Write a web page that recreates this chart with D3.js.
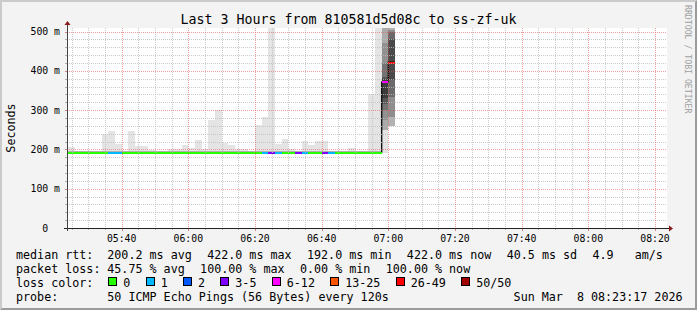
<!DOCTYPE html>
<html>
<head>
<meta charset="utf-8">
<script src="https://cdn.jsdelivr.net/npm/d3@7"></script>
<style>
  body { margin: 0; background: #f3f3f3; }
  text { font-family: "DejaVu Sans Mono", monospace; white-space: pre; fill: #000; }
</style>
</head>
<body>
<div id="chart"></div>
<script>
// one entry per 2 minute step (start of the step)
const stepTimes = ["05:22", "05:24", "05:26", "05:28", "05:30", "05:32", "05:34", "05:36", "05:38", "05:40",
    "05:42", "05:44", "05:46", "05:48", "05:50", "05:52", "05:54", "05:56", "05:58", "06:00",
    "06:02", "06:04", "06:06", "06:08", "06:10", "06:12", "06:14", "06:16", "06:18", "06:20",
    "06:22", "06:24", "06:26", "06:28", "06:30", "06:32", "06:34", "06:36", "06:38", "06:40",
    "06:42", "06:44", "06:46", "06:48", "06:50", "06:52", "06:54", "06:56", "06:58", "07:00"];

// smoke range in ms (lowest / highest ping)
const smokeLow = [192, 192, 192, 192, 192, 192, 192, 192, 192, 192,
    192, 192, 192, 192, 192, 192, 192, 192, 192, 192,
    192, 192, 192, 192, 192, 192, 192, 192, 192, 192,
    192, 192, 192, 192, 192, 192, 192, 192, 192, 192,
    192, 192, 192, 192, 192, 192, 192, 192, 192, 260];
const smokeHigh = [242, 206, 197, 195, 195, 195, 238, 247, 215, 195,
    247, 209, 209, 198, 195, 195, 202, 200, 211, 203,
    224, 200, 275, 300, 217, 211, 200, 200, 196, 262,
    283, 510, 213, 227, 201, 195, 222, 210, 222, 222,
    195, 195, 195, 204, 195, 195, 341, 510, 510, 0];

// median rtt in ms
const medianRtt = [192.5, 192.5, 192.5, 192.5, 192.5, 192.5, 192.5, 192.5, 192.5, 192.5,
    192.5, 192.5, 192.5, 192.5, 192.5, 192.5, 192.5, 192.5, 192.5, 192.5,
    192.5, 192.5, 192.5, 192.5, 192.5, 192.5, 192.5, 192.5, 192.5, 192.5,
    192.5, 192.5, 192.5, 192.5, 192.5, 192.5, 192.5, 192.5, 192.5, 192.5,
    192.5, 192.5, 192.5, 192.5, 192.5, 192.5, 192.5, 192.5, 372, 422];

// index into lossLabels / lossColors
const lossClass = [0, 0, 0, 0, 0, 0, 0, 1, 1, 0,
    0, 0, 0, 0, 0, 0, 0, 0, 0, 0,
    0, 0, 0, 0, 0, 0, 0, 0, 0, 0,
    1, 3, 1, 0, 0, 3, 1, 0, 0, 3,
    1, 0, 0, 0, 0, 0, 0, 0, 4, 6];

// denser smoke of the last two steps: [step, low ms, high ms, shade]
const denseSmoke = [
    ["06:58", 250, 510, 0.25],
    ["06:58", 275, 470, 0.15],
    ["06:58", 300, 420, 0.2],
    ["06:58", 315, 385, 0.25],
    ["06:58", 330, 380, 0.3],
    ["07:00", 260, 510, 0.3],
    ["07:00", 283, 505, 0.2],
    ["07:00", 334, 500, 0.25],
    ["07:00", 377, 480, 0.3]
];

const lossLabels = ["0", "1", "2", "3-5", "6-12", "13-25", "26-49", "50/50"];
const lossColors = ["#26ff00", "#00b8ff", "#0059ff", "#7e00ff", "#ff00ff", "#ff5500", "#ff0000", "#a00000"];

const yTickValues = [0, 100, 200, 300, 400, 500];
const yTickLabels = ["0  ", "100 m", "200 m", "300 m", "400 m", "500 m"];

const rttLegend = ["200.2 ms avg", "422.0 ms max", "192.0 ms min", "422.0 ms now", "40.5 ms sd", "4.9   am/s"];
const lossLegend = ["45.75 % avg", "100.00 % max", "0.00 % min", "100.00 % now"];
const probeText = "50 ICMP Echo Pings (56 Bytes) every 120s";
const stampText = "Sun Mar  8 08:23:17 2026";
const titleText = "Last 3 Hours from 810581d5d08c to ss-zf-uk";

const width = 697, height = 310;
const plot = { left: 67, right: 667, top: 28, bottom: 228 };
const parseHM = d3.timeParse("%H:%M");
const parseHMS = d3.timeParse("%H:%M:%S");

const x = d3.scaleTime()
    .domain([parseHMS("05:23:36"), parseHMS("08:23:36")])
    .range([plot.left, plot.right]);
const y = d3.scaleLinear()
    .domain([0, 509])
    .range([plot.bottom, plot.top]);

const svg = d3.select("#chart").append("svg")
    .attr("width", width)
    .attr("height", height);

// background with 3d border
svg.append("rect").attr("width", width).attr("height", height).attr("fill", "#f3f3f3");
svg.append("path")
    .attr("d", `M0,0H${width}L${width - 2},2H2V${height - 2}L0,${height}Z`)
    .attr("fill", "#cbcbcb");
svg.append("path")
    .attr("d", `M${width},0V${height}H0L2,${height - 2}H${width - 2}V2Z`)
    .attr("fill", "#9b9b9b");

svg.append("rect")
    .attr("x", plot.left).attr("y", plot.top)
    .attr("width", plot.right - plot.left).attr("height", plot.bottom - plot.top)
    .attr("fill", "#fff");

svg.append("clipPath").attr("id", "clip")
    .append("rect")
    .attr("x", plot.left).attr("y", plot.top)
    .attr("width", plot.right - plot.left).attr("height", plot.bottom - plot.top);

const g = svg.append("g").attr("clip-path", "url(#clip)");

const steps = stepTimes.map((s, i) => {
    const t0 = parseHM(s);
    return { t0, t1: d3.timeMinute.offset(t0, 2), lo: smokeLow[i], hi: smokeHigh[i], med: medianRtt[i], loss: lossClass[i] };
});

// light smoke
g.append("g").attr("shape-rendering", "crispEdges")
    .selectAll("rect")
    .data(steps.filter(d => d.hi > d.lo))
    .join("rect")
    .attr("x", d => x(d.t0))
    .attr("width", d => x(d.t1) - x(d.t0))
    .attr("y", d => y(d.hi))
    .attr("height", d => y(d.lo) - y(d.hi))
    .attr("fill", "#000")
    .attr("fill-opacity", 0.105);

// dense smoke
g.append("g").attr("shape-rendering", "crispEdges")
    .selectAll("rect")
    .data(denseSmoke)
    .join("rect")
    .attr("x", d => x(parseHM(d[0])))
    .attr("width", d => x(d3.timeMinute.offset(parseHM(d[0]), 2)) - x(parseHM(d[0])))
    .attr("y", d => y(d[2]))
    .attr("height", d => y(d[1]) - y(d[2]))
    .attr("fill", "#000")
    .attr("fill-opacity", d => d[3]);

// grid
const grid = svg.append("g").attr("shape-rendering", "crispEdges");
const minutes = d3.timeMinute.every(5).range(x.domain()[0], x.domain()[1]);
const isMajorT = t => t.getMinutes() % 20 === 0;
const yMinor = d3.range(20, 510, 20);

grid.selectAll(".vmin")
    .data(minutes.filter(t => !isMajorT(t)))
    .join("line")
    .attr("x1", d => Math.round(x(d)) + 0.5).attr("x2", d => Math.round(x(d)) + 0.5)
    .attr("y1", plot.top).attr("y2", plot.bottom)
    .attr("stroke", "#bdbdbd").attr("stroke-opacity", 0.8)
    .attr("stroke-dasharray", "1,1");
grid.selectAll(".hmin")
    .data(yMinor.filter(v => v % 100 !== 0))
    .join("line")
    .attr("x1", plot.left).attr("x2", plot.right)
    .attr("y1", d => Math.round(y(d)) + 0.5).attr("y2", d => Math.round(y(d)) + 0.5)
    .attr("stroke", "#bdbdbd").attr("stroke-opacity", 0.8)
    .attr("stroke-dasharray", "1,1");
grid.selectAll(".vmaj")
    .data(minutes.filter(isMajorT))
    .join("line")
    .attr("x1", d => Math.round(x(d)) + 0.5).attr("x2", d => Math.round(x(d)) + 0.5)
    .attr("y1", plot.top).attr("y2", plot.bottom)
    .attr("stroke", "#e55050").attr("stroke-opacity", 0.55)
    .attr("stroke-dasharray", "1,1");
grid.selectAll(".hmaj")
    .data(yMinor.filter(v => v % 100 === 0))
    .join("line")
    .attr("x1", plot.left).attr("x2", plot.right)
    .attr("y1", d => Math.round(y(d)) + 0.5).attr("y2", d => Math.round(y(d)) + 0.5)
    .attr("stroke", "#e55050").attr("stroke-opacity", 0.55)
    .attr("stroke-dasharray", "1,1");

// median: thin dark step line underneath, loss coloured segments on top
const medPts = steps.flatMap(d => [[x(d.t0), y(d.med)], [x(d.t1), y(d.med)]]);
g.append("path")
    .attr("d", d3.line()(medPts))
    .attr("fill", "none")
    .attr("stroke", "#111")
    .attr("stroke-width", 1.4);

g.append("g").attr("shape-rendering", "crispEdges")
    .selectAll("rect")
    .data(steps)
    .join("rect")
    .attr("x", d => x(d.t0))
    .attr("width", d => x(d.t1) - x(d.t0))
    .attr("y", d => Math.floor(y(d.med)))
    .attr("height", 2)
    .attr("fill", d => lossColors[d.loss]);

// axes
const axisG = svg.append("g");
axisG.selectAll(".xt")
    .data(minutes)
    .join("line")
    .attr("x1", d => Math.round(x(d)) + 0.5).attr("x2", d => Math.round(x(d)) + 0.5)
    .attr("y1", plot.bottom).attr("y2", d => plot.bottom + (isMajorT(d) ? 3 : 2))
    .attr("stroke", d => isMajorT(d) ? "#e08080" : "#b0b0b0");
axisG.selectAll(".yt")
    .data(yMinor)
    .join("line")
    .attr("x1", plot.left - (2)).attr("x2", plot.left)
    .attr("y1", d => Math.round(y(d)) + 0.5).attr("y2", d => Math.round(y(d)) + 0.5)
    .attr("stroke", d => d % 100 === 0 ? "#e08080" : "#b0b0b0");

axisG.append("line")
    .attr("x1", plot.left - 3).attr("x2", plot.right + 2)
    .attr("y1", plot.bottom + 0.5).attr("y2", plot.bottom + 0.5)
    .attr("stroke", "#222");
axisG.append("line")
    .attr("x1", plot.left + 0.5).attr("x2", plot.left + 0.5)
    .attr("y1", plot.bottom + 3).attr("y2", plot.top - 3)
    .attr("stroke", "#444");
axisG.append("path")
    .attr("d", `M${plot.right + 2},${plot.bottom - 2.5}L${plot.right + 6},${plot.bottom + 0.5}L${plot.right + 2},${plot.bottom + 3.5}Z`)
    .attr("fill", "#8b1a1a");
axisG.append("path")
    .attr("d", `M${plot.left - 2.5},${plot.top - 3}L${plot.left + 0.5},${plot.top - 7}L${plot.left + 3.5},${plot.top - 3}Z`)
    .attr("fill", "#8b1a1a");

// tick labels
axisG.selectAll(".xl")
    .data(minutes.filter(isMajorT))
    .join("text")
    .attr("x", d => x(d))
    .attr("y", 241.5)
    .attr("text-anchor", "middle")
    .attr("font-size", "9.8px")
    .text(d3.timeFormat("%H:%M"));
axisG.selectAll(".yl")
    .data(yTickValues)
    .join("text")
    .attr("x", 60)
    .attr("y", d => y(d) + 3.5)
    .attr("text-anchor", "end")
    .attr("font-size", "9.8px")
    .text((d, i) => yTickLabels[i]);

// title and labels
svg.append("text")
    .attr("x", 348.5).attr("y", 24)
    .attr("text-anchor", "middle")
    .attr("font-size", "13.3px")
    .text(titleText);
svg.append("text")
    .attr("transform", "translate(14.5,128) rotate(-90)")
    .attr("text-anchor", "middle")
    .attr("font-size", "11.7px")
    .text("Seconds");
svg.append("text")
    .attr("transform", "translate(685,5) rotate(90)")
    .attr("font-size", "8.2px")
    .style("fill", "#a0a0a0")
    .text("RRDTOOL / TOBI OETIKER");

// legend
const lg = svg.append("g").attr("font-size", "11.7px");
const rowY = [258.5, 272.5, 286.5, 300.5];
const colX = 107.3, gap = 15.4;

function flowRow(items, yPos) {
    let cx = colX;
    items.forEach(s => {
        const t = lg.append("text").attr("x", cx).attr("y", yPos).text(s);
        cx += t.node().getComputedTextLength() + gap;
    });
}

lg.append("text").attr("x", 16).attr("y", rowY[0]).text("median rtt:");
flowRow(rttLegend, rowY[0]);
lg.append("text").attr("x", 16).attr("y", rowY[1]).text("packet loss:");
flowRow(lossLegend, rowY[1]);
lg.append("text").attr("x", 16).attr("y", rowY[2]).text("loss color:");
let bx = colX + 1;
lossLabels.forEach((s, i) => {
    lg.append("rect")
        .attr("x", Math.round(bx) + 0.5).attr("y", rowY[2] - 9)
        .attr("width", 8).attr("height", 8)
        .attr("fill", lossColors[i])
        .attr("stroke", "#000");
    const t = lg.append("text").attr("x", bx + 15).attr("y", rowY[2]).text(s);
    bx += 15 + t.node().getComputedTextLength() + 15.3;
});
lg.append("text").attr("x", 16).attr("y", rowY[3]).text("probe:");
lg.append("text").attr("x", colX).attr("y", rowY[3]).text(probeText);
lg.append("text").attr("x", 682.5).attr("y", rowY[3]).attr("text-anchor", "end").text(stampText);
</script>
</body>
</html>
